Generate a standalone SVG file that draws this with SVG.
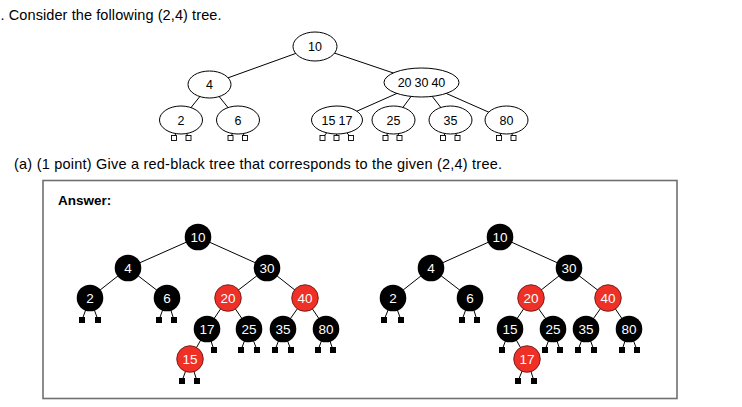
<svg xmlns="http://www.w3.org/2000/svg" width="742" height="407" viewBox="0 0 742 407">
<style>
.t{font-family:"Liberation Sans",Arial,sans-serif;fill:#000}
.e{fill:#fff;stroke:#000;stroke-width:1}
.el{font-family:"Liberation Sans",Arial,sans-serif;font-size:12.5px;text-anchor:middle;fill:#000}
.hl{fill:#fff;stroke:#000;stroke-width:0.9}
.ln{stroke:#000;stroke-width:1;fill:none}
.b{fill:#000}
.r{fill:#ee3026;stroke:#5a1010;stroke-width:0.8}
.nl{font-family:"Liberation Sans",Arial,sans-serif;font-size:13.5px;text-anchor:middle;fill:#fff}
.lf{fill:#000}
</style>
<rect width="742" height="407" fill="#fff"/>
<text class="t" x="0.5" y="20" font-size="14.5" textLength="221" lengthAdjust="spacing">. Consider the following (2,4) tree.</text>
<text class="t" x="14" y="169" font-size="14.5" textLength="488" lengthAdjust="spacing">(a) (1 point) Give a red-black tree that corresponds to the given (2,4) tree.</text>
<rect x="43" y="180.5" width="634" height="218" fill="none" stroke="#707070" stroke-width="1.6"/>
<text class="t" x="58" y="205" font-size="13.5" font-weight="bold">Answer:</text>

<g id="connectors">
<!-- top (2,4) tree -->
<line class="ln" x1="315" y1="46.5" x2="209.5" y2="84.5"/>
<line class="ln" x1="315" y1="46.5" x2="421.5" y2="82.5"/>
<line class="ln" x1="209.5" y1="84.5" x2="181" y2="120"/>
<line class="ln" x1="209.5" y1="84.5" x2="238" y2="120"/>
<line class="ln" x1="421.5" y1="82.5" x2="337" y2="120"/>
<line class="ln" x1="421.5" y1="82.5" x2="393.5" y2="120"/>
<line class="ln" x1="421.5" y1="82.5" x2="450.5" y2="120"/>
<line class="ln" x1="421.5" y1="82.5" x2="506.5" y2="120"/>
<line class="ln" x1="181" y1="120" x2="174" y2="138"/>
<line class="ln" x1="181" y1="120" x2="188.5" y2="138"/>
<line class="ln" x1="238" y1="120" x2="230.5" y2="138"/>
<line class="ln" x1="238" y1="120" x2="245" y2="138"/>
<line class="ln" x1="337" y1="120" x2="322.5" y2="138"/>
<line class="ln" x1="337" y1="120" x2="336.5" y2="138"/>
<line class="ln" x1="337" y1="120" x2="351" y2="138"/>
<line class="ln" x1="393.5" y1="120" x2="385.5" y2="138"/>
<line class="ln" x1="393.5" y1="120" x2="399.5" y2="138"/>
<line class="ln" x1="450.5" y1="120" x2="443" y2="138"/>
<line class="ln" x1="450.5" y1="120" x2="457.5" y2="138"/>
<line class="ln" x1="506.5" y1="120" x2="499" y2="138"/>
<line class="ln" x1="506.5" y1="120" x2="513.5" y2="138"/>
<!-- left RB tree -->
<line class="ln" x1="198" y1="237" x2="128" y2="268"/>
<line class="ln" x1="198" y1="237" x2="267" y2="268"/>
<line class="ln" x1="128" y1="268" x2="90" y2="298"/>
<line class="ln" x1="128" y1="268" x2="167" y2="298"/>
<line class="ln" x1="267" y1="268" x2="228" y2="298"/>
<line class="ln" x1="267" y1="268" x2="305" y2="298"/>
<line class="ln" x1="228" y1="298" x2="207" y2="329"/>
<line class="ln" x1="228" y1="298" x2="249" y2="329"/>
<line class="ln" x1="305" y1="298" x2="283" y2="329"/>
<line class="ln" x1="305" y1="298" x2="326" y2="329"/>
<line class="ln" x1="207" y1="329" x2="190" y2="359"/>
<line class="ln" x1="90" y1="298" x2="82" y2="320"/>
<line class="ln" x1="90" y1="298" x2="98" y2="320"/>
<line class="ln" x1="167" y1="298" x2="159" y2="320"/>
<line class="ln" x1="167" y1="298" x2="174" y2="320"/>
<line class="ln" x1="207" y1="329" x2="214" y2="350"/>
<line class="ln" x1="249" y1="329" x2="241" y2="350"/>
<line class="ln" x1="249" y1="329" x2="257" y2="350"/>
<line class="ln" x1="283" y1="329" x2="275" y2="350"/>
<line class="ln" x1="283" y1="329" x2="291" y2="350"/>
<line class="ln" x1="326" y1="329" x2="318" y2="350"/>
<line class="ln" x1="326" y1="329" x2="333" y2="350"/>
<line class="ln" x1="190" y1="359" x2="182" y2="381"/>
<line class="ln" x1="190" y1="359" x2="197" y2="381"/>
<!-- right RB tree -->
<line class="ln" x1="500" y1="237" x2="431" y2="268"/>
<line class="ln" x1="500" y1="237" x2="569" y2="268"/>
<line class="ln" x1="431" y1="268" x2="393" y2="298"/>
<line class="ln" x1="431" y1="268" x2="470" y2="298"/>
<line class="ln" x1="569" y1="268" x2="531" y2="298"/>
<line class="ln" x1="569" y1="268" x2="608" y2="298"/>
<line class="ln" x1="531" y1="298" x2="510" y2="329"/>
<line class="ln" x1="531" y1="298" x2="553" y2="329"/>
<line class="ln" x1="608" y1="298" x2="586" y2="329"/>
<line class="ln" x1="608" y1="298" x2="629" y2="329"/>
<line class="ln" x1="510" y1="329" x2="527" y2="359"/>
<line class="ln" x1="393" y1="298" x2="384" y2="320"/>
<line class="ln" x1="393" y1="298" x2="401" y2="320"/>
<line class="ln" x1="470" y1="298" x2="462" y2="320"/>
<line class="ln" x1="470" y1="298" x2="477" y2="320"/>
<line class="ln" x1="510" y1="329" x2="502" y2="350"/>
<line class="ln" x1="553" y1="329" x2="545" y2="350"/>
<line class="ln" x1="553" y1="329" x2="560" y2="350"/>
<line class="ln" x1="586" y1="329" x2="578" y2="350"/>
<line class="ln" x1="586" y1="329" x2="594" y2="350"/>
<line class="ln" x1="629" y1="329" x2="622" y2="350"/>
<line class="ln" x1="629" y1="329" x2="637" y2="350"/>
<line class="ln" x1="527" y1="359" x2="518" y2="381"/>
<line class="ln" x1="527" y1="359" x2="534" y2="381"/>
</g>

<!-- top (2,4) tree nodes -->
<g id="t10"><ellipse class="e" cx="315" cy="46.5" rx="22" ry="14.5"/><text class="el" x="315" y="51">10</text></g>
<g id="t4"><ellipse class="e" cx="209.5" cy="84.5" rx="21.5" ry="13.5"/><text class="el" x="209.5" y="89">4</text></g>
<g id="t203040"><ellipse class="e" cx="421.5" cy="82.5" rx="37.5" ry="14.5"/><text class="el" x="421.5" y="87" word-spacing="-0.5">20 30 40</text></g>
<g id="t2"><ellipse class="e" cx="181" cy="120" rx="21.5" ry="14"/><text class="el" x="181" y="124.5">2</text></g>
<g id="t6"><ellipse class="e" cx="238" cy="120" rx="21.5" ry="14"/><text class="el" x="238" y="124.5">6</text></g>
<g id="t1517"><ellipse class="e" cx="337" cy="120" rx="25.5" ry="14"/><text class="el" x="337" y="124.5" word-spacing="-0.5">15 17</text></g>
<g id="t25"><ellipse class="e" cx="393.5" cy="120" rx="21.5" ry="14"/><text class="el" x="393.5" y="124.5">25</text></g>
<g id="t35"><ellipse class="e" cx="450.5" cy="120" rx="21.5" ry="14"/><text class="el" x="450.5" y="124.5">35</text></g>
<g id="t80"><ellipse class="e" cx="506.5" cy="120" rx="21.5" ry="14"/><text class="el" x="506.5" y="124.5">80</text></g>
<g id="tleaves">
<rect class="hl" x="171.5" y="135.5" width="5" height="5"/><rect class="hl" x="186" y="135.5" width="5" height="5"/>
<rect class="hl" x="228" y="135.5" width="5" height="5"/><rect class="hl" x="242.5" y="135.5" width="5" height="5"/>
<rect class="hl" x="320" y="135.5" width="5" height="5"/><rect class="hl" x="334" y="135.5" width="5" height="5"/><rect class="hl" x="348.5" y="135.5" width="5" height="5"/>
<rect class="hl" x="383" y="135.5" width="5" height="5"/><rect class="hl" x="397" y="135.5" width="5" height="5"/>
<rect class="hl" x="440.5" y="135.5" width="5" height="5"/><rect class="hl" x="455" y="135.5" width="5" height="5"/>
<rect class="hl" x="496.5" y="135.5" width="5" height="5"/><rect class="hl" x="511" y="135.5" width="5" height="5"/>
</g>

<!-- left red-black tree -->
<g id="L10"><circle class="b" cx="198" cy="237" r="13.3"/><text class="nl" x="198" y="241.8">10</text></g>
<g id="L4"><circle class="b" cx="128" cy="268" r="13.3"/><text class="nl" x="128" y="272.8">4</text></g>
<g id="L30"><circle class="b" cx="267" cy="268" r="13.3"/><text class="nl" x="267" y="272.8">30</text></g>
<g id="L2"><circle class="b" cx="90" cy="298" r="13.3"/><text class="nl" x="90" y="302.8">2</text></g>
<g id="L6"><circle class="b" cx="167" cy="298" r="13.3"/><text class="nl" x="167" y="302.8">6</text></g>
<g id="L20"><circle class="r" cx="228" cy="298" r="13.3"/><text class="nl" x="228" y="302.8">20</text></g>
<g id="L40"><circle class="r" cx="305" cy="298" r="13.3"/><text class="nl" x="305" y="302.8">40</text></g>
<g id="L17"><circle class="b" cx="207" cy="329" r="13.3"/><text class="nl" x="207" y="333.8">17</text></g>
<g id="L25"><circle class="b" cx="249" cy="329" r="13.3"/><text class="nl" x="249" y="333.8">25</text></g>
<g id="L35"><circle class="b" cx="283" cy="329" r="13.3"/><text class="nl" x="283" y="333.8">35</text></g>
<g id="L80"><circle class="b" cx="326" cy="329" r="13.3"/><text class="nl" x="326" y="333.8">80</text></g>
<g id="L15"><circle class="r" cx="190" cy="359" r="13.3"/><text class="nl" x="190" y="363.8">15</text></g>
<g id="Lleaves">
<rect class="lf" x="79" y="317" width="6" height="6"/><rect class="lf" x="95" y="317" width="6" height="6"/>
<rect class="lf" x="156" y="317" width="6" height="6"/><rect class="lf" x="171" y="317" width="6" height="6"/>
<rect class="lf" x="211" y="347" width="6" height="6"/>
<rect class="lf" x="238" y="347" width="6" height="6"/><rect class="lf" x="254" y="347" width="6" height="6"/>
<rect class="lf" x="272" y="347" width="6" height="6"/><rect class="lf" x="288" y="347" width="6" height="6"/>
<rect class="lf" x="315" y="347" width="6" height="6"/><rect class="lf" x="330" y="347" width="6" height="6"/>
<rect class="lf" x="179" y="378" width="6" height="6"/><rect class="lf" x="194" y="378" width="6" height="6"/>
</g>

<!-- right red-black tree -->
<g id="R10"><circle class="b" cx="500" cy="237" r="13.3"/><text class="nl" x="500" y="241.8">10</text></g>
<g id="R4"><circle class="b" cx="431" cy="268" r="13.3"/><text class="nl" x="431" y="272.8">4</text></g>
<g id="R30"><circle class="b" cx="569" cy="268" r="13.3"/><text class="nl" x="569" y="272.8">30</text></g>
<g id="R2"><circle class="b" cx="393" cy="298" r="13.3"/><text class="nl" x="393" y="302.8">2</text></g>
<g id="R6"><circle class="b" cx="470" cy="298" r="13.3"/><text class="nl" x="470" y="302.8">6</text></g>
<g id="R20"><circle class="r" cx="531" cy="298" r="13.3"/><text class="nl" x="531" y="302.8">20</text></g>
<g id="R40"><circle class="r" cx="608" cy="298" r="13.3"/><text class="nl" x="608" y="302.8">40</text></g>
<g id="R15"><circle class="b" cx="510" cy="329" r="13.3"/><text class="nl" x="510" y="333.8">15</text></g>
<g id="R25"><circle class="b" cx="553" cy="329" r="13.3"/><text class="nl" x="553" y="333.8">25</text></g>
<g id="R35"><circle class="b" cx="586" cy="329" r="13.3"/><text class="nl" x="586" y="333.8">35</text></g>
<g id="R80"><circle class="b" cx="629" cy="329" r="13.3"/><text class="nl" x="629" y="333.8">80</text></g>
<g id="R17"><circle class="r" cx="527" cy="359" r="13.3"/><text class="nl" x="527" y="363.8">17</text></g>
<g id="Rleaves">
<rect class="lf" x="381" y="317" width="6" height="6"/><rect class="lf" x="398" y="317" width="6" height="6"/>
<rect class="lf" x="459" y="317" width="6" height="6"/><rect class="lf" x="474" y="317" width="6" height="6"/>
<rect class="lf" x="499" y="347" width="6" height="6"/>
<rect class="lf" x="542" y="347" width="6" height="6"/><rect class="lf" x="557" y="347" width="6" height="6"/>
<rect class="lf" x="575" y="347" width="6" height="6"/><rect class="lf" x="591" y="347" width="6" height="6"/>
<rect class="lf" x="619" y="347" width="6" height="6"/><rect class="lf" x="634" y="347" width="6" height="6"/>
<rect class="lf" x="515" y="378" width="6" height="6"/><rect class="lf" x="531" y="378" width="6" height="6"/>
</g>
</svg>
